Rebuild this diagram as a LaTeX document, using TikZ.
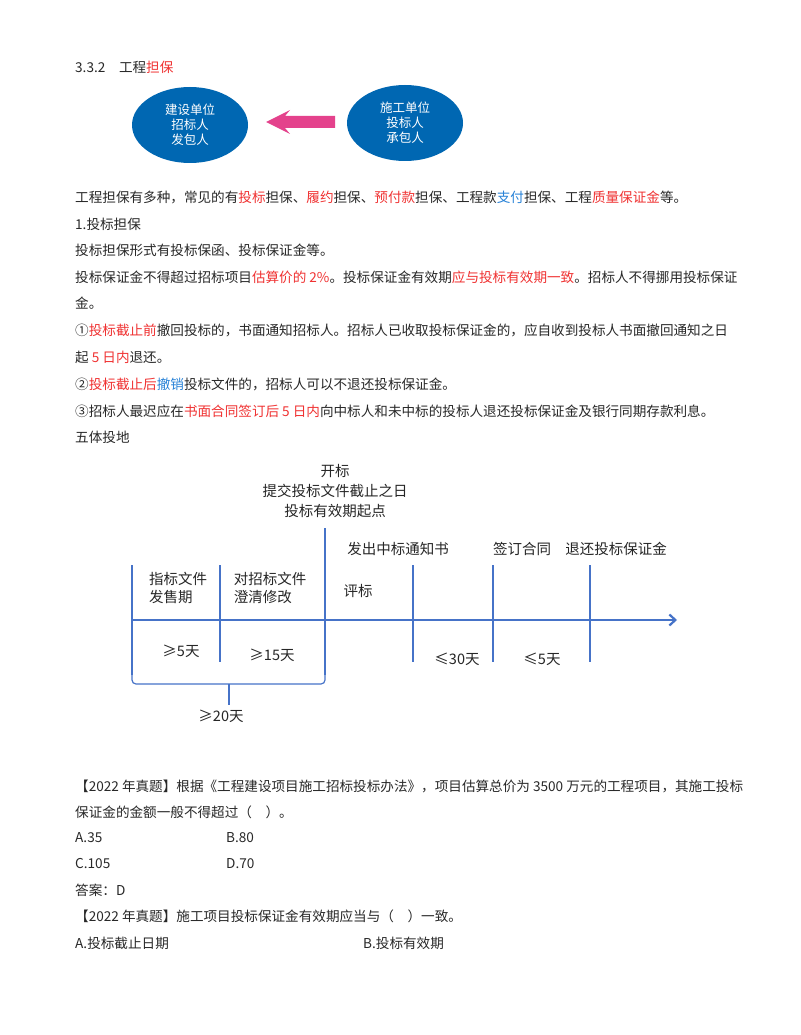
\documentclass[tikz,border=0pt]{standalone}
\usepackage{fontspec}
\setmainfont{Noto Sans CJK SC}
\usetikzlibrary{arrows.meta,shapes.geometric}
\definecolor{rd}{RGB}{240,50,50}
\definecolor{bl}{RGB}{40,130,215}
\definecolor{ell}{RGB}{0,103,178}
\definecolor{pk}{RGB}{228,66,140}
\definecolor{tl}{RGB}{70,115,200}
\definecolor{tx}{RGB}{40,40,40}
\newcommand{\R}[1]{\textcolor{rd}{#1}}
\newcommand{\B}[1]{\textcolor{bl}{#1}}
\begin{document}
\begin{tikzpicture}[x=1pt,y=-1pt,
  line/.style={anchor=west,inner sep=0pt,font=\fontsize{13.6}{15}\selectfont,text=tx},
  tlab/.style={inner sep=0pt,font=\fontsize{14.5}{18}\selectfont,text=black!85},
  ellbox/.style={ellipse,fill=ell,draw=none,minimum width=116,minimum height=76,text=white,align=center,font=\fontsize{12.5}{15}\selectfont,inner sep=0pt},
  vl/.style={draw=tl,line width=1.6pt}]
\useasboundingbox (0,0) rectangle (800,1035);
\fill[white] (0,0) rectangle (800,1035);
\node[line] (h) at (75,67) {3.3.2\quad 工程\R{担保}};
\node[ellbox] (e1) at (190,125) {建设单位\\招标人\\发包人};
\node[ellbox] (e2) at (405,123) {施工单位\\投标人\\承包人};
\fill[pk] (335,116) -- (285,116) -- (290,110) -- (266,122) -- (290,134) -- (285,128) -- (335,128) -- cycle;
\node[line] (l1) at (75,197) {工程担保有多种，常见的有\R{投标}担保、\R{履约}担保、\R{预付款}担保、工程款\B{支付}担保、工程\R{质量保证金}等。};
\node[line] (l2) at (75,224) {1.投标担保};
\node[line] (l3) at (75,250) {投标担保形式有投标保函、投标保证金等。};
\node[line] (l4) at (75,277) {投标保证金不得超过招标项目\R{估算价的 2\%}。投标保证金有效期\R{应与投标有效期一致}。招标人不得挪用投标保证};
\node[line] (l5) at (75,303) {金。};
\node[line] (l6) at (75,330) {①\R{投标截止前}撤回投标的，书面通知招标人。招标人已收取投标保证金的，应自收到投标人书面撤回通知之日};
\node[line] (l7) at (75,357) {起 \R{5 日内}退还。};
\node[line] (l8) at (75,384) {②\R{投标截止后}\B{撤销}投标文件的，招标人可以不退还投标保证金。};
\node[line] (l9) at (75,411) {③招标人最迟应在\R{书面合同签订后 5 日内}向中标人和未中标的投标人退还投标保证金及银行同期存款利息。};
\node[line] (l10) at (75,437) {五体投地};
% timeline
\coordinate (a0) at (132,620); \coordinate (a1) at (677,620);
\draw[tl,line width=2.2pt,-{Straight Barb[length=6pt,width=11pt]}] (a0) -- (a1);
\draw[vl] (132,565) -- (132,675);
\draw[vl] (220,565) -- (220,662);
\draw[vl] (325,528) -- (325,675);
\draw[vl] (413,565) -- (413,662);
\draw[vl] (493,565) -- (493,662);
\draw[vl] (590,565) -- (590,662);
\draw[tl,line width=1.2pt,rounded corners=4pt] (132,670) -- (132,684) -- (325,684) -- (325,670);
\draw[tl,line width=1.2pt] (229,684) -- (229,705);
\node[tlab] (k1) at (335,471) {开标};
\node[tlab] (k2) at (335,491) {提交投标文件截止之日};
\node[tlab] (k3) at (335,511) {投标有效期起点};
\node[tlab] (k4) at (398,549) {发出中标通知书};
\node[tlab] (k5) at (522,549) {签订合同};
\node[tlab] (k6) at (616,549) {退还投标保证金};
\node[tlab,align=left] (k7) at (178,588) {指标文件\\发售期};
\node[tlab,align=left] (k8) at (270,588) {对招标文件\\澄清修改};
\node[tlab] (k9) at (358,591) {评标};
\node[tlab] (k10) at (181,651) {≥5天};
\node[tlab] (k11) at (272,655) {≥15天};
\node[tlab] (k12) at (457,659) {≤30天};
\node[tlab] (k13) at (542,659) {≤5天};
\node[tlab] (k14) at (221,716) {≥20天};
% bottom
\node[line] (b1) at (75,786) {【2022 年真题】根据《工程建设项目施工招标投标办法》，项目估算总价为 3500 万元的工程项目，其施工投标};
\node[line] (b2) at (75,812) {保证金的金额一般不得超过（\quad ）。};
\node[line] (b3) at (75,838) {A.35};
\node[line] (b4) at (226,838) {B.80};
\node[line] (b5) at (75,864) {C.105};
\node[line] (b6) at (226,864) {D.70};
\node[line] (b7) at (75,890) {答案：D};
\node[line] (b8) at (75,916) {【2022 年真题】施工项目投标保证金有效期应当与（\quad ）一致。};
\node[line] (b9) at (75,943) {A.投标截止日期};
\node[line] (b10) at (363,943) {B.投标有效期};
\end{tikzpicture}
\end{document}
